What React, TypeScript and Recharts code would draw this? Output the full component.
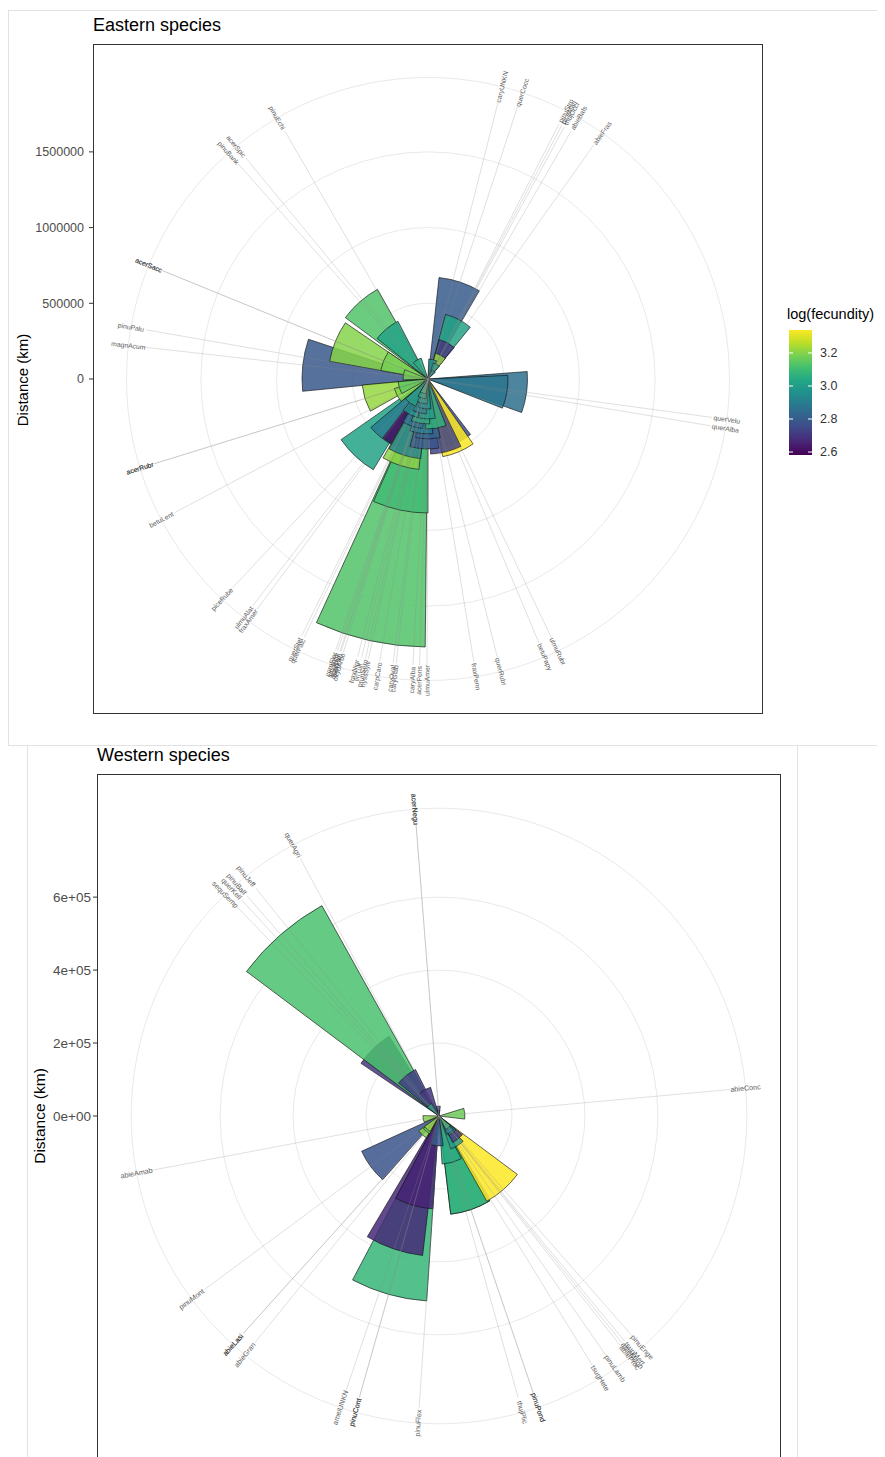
import React from 'react';
import {
  ScatterChart,
  Scatter,
  XAxis,
  YAxis,
  ReferenceArea,
  ReferenceLine,
  Sector,
} from 'recharts';

// Eastern species (array order = drawing order)
const eastSpecies = [
  'prunSero', 'nyssSylv', 'magnAcum', 'piceRube', 'pinuBank', 'querCocc', 'acerSacc',
  'querVelu', 'querAlba', 'ulmuAlat', 'querFalc', 'querPrin', 'oxydArbo', 'ulmuRubr',
  'betuPapy', 'querRubr', 'caryAlba', 'acerSpic', 'acerRubr', 'ulmuAmer', 'pinuStro',
  'caryOval', 'sassAlbi', 'fraxPenn', 'acerSacc', 'carpCaro', 'piceMari', 'acerPens',
  'querStel', 'betuLent', 'fraxNigr', 'acerRubr', 'fraxAmer', 'caryGlab', 'thujOcci',
  'pinuPalu', 'liriTuli', 'pinuEchi', 'liquStyr', 'caryUNKN', 'abieBals', 'cornFlor',
  'abieFras',
];
const eastBearing = [
  192.6, 192.0, 276.4, 223.1, 318.6, 18.2, 292.2,
  97.7, 99.4, 217.7, 205.6, 197.7, 197.2, 154.5,
  157.2, 166.0, 183.0, 320.5, 252.8, 180.2, 27.2,
  187.0, 198.4, 170.8, 292.2, 189.7, 27.8, 181.7,
  206.2, 242.2, 194.2, 252.8, 216.6, 186.4, 28.4,
  279.9, 193.4, 330.0, 197.9, 14.2, 30.0, 198.8,
  35.3,
];
const eastDistance = [
  1770000, 885000, 832000, 700000, 680000, 674000, 660000,
  657000, 528000, 495000, 489000, 600000, 528000, 462000,
  522000, 495000, 462000, 430000, 436000, 396000, 442000,
  363000, 330000, 330000, 317000, 297000, 271000, 264000,
  264000, 231000, 231000, 198000, 198000, 198000, 178000,
  165000, 165000, 145000, 132000, 132000, 112000, 99000,
  66000,
];
const eastFecundity = [
  3.13, 3.1, 2.79, 3.02, 3.13, 2.8, 3.2,
  2.86, 2.88, 2.9, 2.61, 3.21, 2.92, 2.76,
  3.34, 2.73, 2.78, 3.02, 3.22, 2.82, 3.02,
  2.9, 2.85, 3.07, 3.18, 3.05, 2.7, 3.0,
  2.95, 3.2, 2.9, 3.15, 3.0, 2.95, 3.22,
  3.18, 3.0, 3.05, 3.05, 2.95, 3.0, 3.1,
  2.9,
];
const eastTicks = [0, 500000, 1000000, 1500000];

// Western species
const westSpecies = [
  'sequSemp', 'pinuBalf', 'pinuCont', 'amelUNKN', 'pinuMont', 'pinuCont', 'pinuPond',
  'pinuPond', 'pinuEnge', 'pinuJeff', 'thujPlic', 'tsugHete', 'querAgri', 'tsugMert',
  'pinuFlex', 'abieConc', 'abieLasi', 'abieMagn', 'abieGran', 'pinuLamb', 'abieLasi',
  'abieAmab', 'abieProc', 'querKell', 'acerNegu', 'acerNegu',
];
const westBearing = [
  316.0, 318.9, 195.8, 198.7, 233.5, 195.8, 161.2,
  161.2, 138.7, 321.2, 164.3, 148.4, 331.7, 140.5,
  183.9, 84.8, 222.0, 141.1, 219.1, 145.1, 222.0,
  259.3, 141.7, 317.6, 355.5, 355.5,
];
const westDistance = [
  258000, 660000, 508000, 385000, 233000, 255000, 271000,
  271000, 268000, 143000, 132000, 96000, 82000, 82000,
  82000, 71000, 69000, 60000, 55000, 55000, 49000,
  44000, 41000, 40000, 27000, 16000,
];
const westFecundity = [
  2.7, 3.12, 3.08, 2.67, 2.78, 2.66, 3.07,
  3.07, 3.34, 2.72, 3.05, 3.0, 2.7, 2.7,
  2.8, 3.17, 3.2, 2.95, 3.15, 2.9, 3.22,
  3.2, 3.1, 3.0, 2.75, 2.75,
];
const westTicks = [0, 200000, 400000, 600000];

const legendTicks = [2.6, 2.8, 3.0, 3.2];
const fecMin = 2.582;
const fecMax = 3.339;

const WEDGE = 24; // degrees
const FONT = '"Liberation Sans", Arial, Helvetica, sans-serif';

const viridisStops = [
  '#440154', '#482475', '#414487', '#355f8d', '#2a788e', '#21918c',
  '#22a884', '#44bf70', '#7ad151', '#bddf26', '#fde725',
];

function hexToRgb(h: string) {
  return [1, 3, 5].map((i) => parseInt(h.slice(i, i + 2), 16));
}

function viridis(t: number) {
  const c = Math.max(0, Math.min(1, t)) * 10;
  const i = Math.min(9, Math.floor(c));
  const f = c - i;
  const a = hexToRgb(viridisStops[i]);
  const b = hexToRgb(viridisStops[i + 1]);
  const rgb = a.map((v, k) => Math.round(v + (b[k] - v) * f));
  return `rgb(${rgb.join(',')})`;
}

const fecColor = (f: number) => viridis((f - fecMin) / (fecMax - fecMin));

const rad = (d: number) => (d * Math.PI) / 180;

const plainFormat = (v: number) => String(v);
const sciFormat = (v: number) => {
  if (v === 0) return '0e+00';
  const e = Math.floor(Math.log10(Math.abs(v)));
  const m = Math.round((v / Math.pow(10, e)) * 100) / 100;
  return `${m}e+${String(e).padStart(2, '0')}`;
};

type PanelProps = {
  species: string[];
  bearing: number[];
  distance: number[];
  fecundity: number[];
  rMax: number;
  ticks: number[];
  tickFormatter: (v: number) => string;
  size: number;
  axisWidth: number;
  tickFontSize: number;
  tickMargin: number;
  labelFontSize: number;
};

const PolarPanel = (p: PanelProps) => {
  const D = p.rMax * 1.25;
  const labelR = p.rMax * 1.125;
  const rows = p.species.map((name, i) => ({
    name,
    bearing: p.bearing[i],
    distance: p.distance[i],
    fecundity: p.fecundity[i],
  }));
  const labels = rows.map((r) => ({
    name: r.name,
    bearing: r.bearing,
    x: labelR * Math.sin(rad(r.bearing)),
    y: labelR * Math.cos(rad(r.bearing)),
  }));
  const rings = [...p.ticks.filter((t) => t > 0), labelR];

  return (
    <ScatterChart
      width={p.axisWidth + p.size}
      height={p.size}
      margin={{ top: 0, right: 0, bottom: 0, left: 0 }}
    >
      <XAxis type="number" dataKey="x" domain={[-D, D]} allowDataOverflow hide />
      <YAxis
        type="number"
        dataKey="y"
        domain={[-D, D]}
        allowDataOverflow
        ticks={p.ticks}
        interval={0}
        width={p.axisWidth}
        axisLine={false}
        tickLine={{ stroke: '#333', strokeWidth: 1 }}
        tickSize={4}
        tickMargin={p.tickMargin}
        tick={{ fill: '#4d4d4d', fontSize: p.tickFontSize, fontFamily: FONT }}
        tickFormatter={p.tickFormatter}
      />

      {/* grid circles */}
      {rings.map((r) => (
        <ReferenceArea
          key={`ring-${r}`}
          x1={-r}
          x2={r}
          y1={-r}
          y2={r}
          ifOverflow="visible"
          shape={(s: any) => (
            <circle
              cx={s.x + s.width / 2}
              cy={s.y + s.height / 2}
              r={s.width / 2}
              fill="none"
              stroke="#e3e3e3"
              strokeWidth={0.8}
            />
          )}
        />
      ))}

      {/* spokes to the labels */}
      {labels.map((l, i) => (
        <ReferenceLine
          key={`spoke-${i}`}
          segment={[
            { x: 0, y: 0 },
            { x: l.x * 0.95, y: l.y * 0.95 },
          ]}
          stroke="#8a8a8a"
          strokeOpacity={0.45}
          strokeWidth={0.6}
          ifOverflow="visible"
        />
      ))}

      {/* wedges */}
      {rows.map((r, i) => (
        <ReferenceArea
          key={`wedge-${i}`}
          x1={-r.distance}
          x2={r.distance}
          y1={-r.distance}
          y2={r.distance}
          ifOverflow="visible"
          shape={(s: any) => (
            <Sector
              cx={s.x + s.width / 2}
              cy={s.y + s.height / 2}
              innerRadius={0}
              outerRadius={s.width / 2}
              startAngle={90 - (r.bearing - WEDGE / 2)}
              endAngle={90 - (r.bearing + WEDGE / 2)}
              fill={fecColor(r.fecundity)}
              fillOpacity={0.85}
              stroke="#111"
              strokeOpacity={0.85}
              strokeWidth={0.75}
            />
          )}
        />
      ))}

      {/* species labels */}
      <Scatter
        data={labels}
        isAnimationActive={false}
        shape={(s: any) => {
          let rot = s.payload.bearing - 90;
          if (rot > 90) rot -= 180;
          return (
            <g opacity={0.8}>
              <text
                x={s.cx}
                y={s.cy}
                transform={`rotate(${rot}, ${s.cx}, ${s.cy})`}
                textAnchor="middle"
                dominantBaseline="central"
                fontSize={p.labelFontSize}
                fontFamily={FONT}
                fill="#333"
              >
                {s.payload.name}
              </text>
            </g>
          );
        }}
      />

      {/* panel border */}
      <ReferenceArea
        x1={-D}
        x2={D}
        y1={-D}
        y2={D}
        ifOverflow="visible"
        shape={(s: any) => (
          <rect
            x={s.x + 0.5}
            y={s.y + 0.5}
            width={s.width - 1}
            height={s.height - 1}
            fill="none"
            stroke="#333"
            strokeWidth={1}
          />
        )}
      />
    </ScatterChart>
  );
};

const Legend = () => {
  const barH = 125;
  const barW = 23;
  const yOf = (v: number) => barH - ((v - fecMin) / (fecMax - fecMin)) * barH;
  return (
    <svg width={70} height={barH + 10} style={{ position: 'absolute', left: 781, top: 322 }}>
      <defs>
        <linearGradient id="viridisBar" x1="0" y1="1" x2="0" y2="0">
          {viridisStops.map((c, i) => (
            <stop key={c} offset={`${i * 10}%`} stopColor={c} />
          ))}
        </linearGradient>
      </defs>
      <rect x={0} y={0} width={barW} height={barH} fill="url(#viridisBar)" />
      {legendTicks.map((t) => (
        <g key={t}>
          <line x1={0} x2={4} y1={yOf(t)} y2={yOf(t)} stroke="#fff" strokeWidth={1} />
          <line x1={barW - 4} x2={barW} y1={yOf(t)} y2={yOf(t)} stroke="#fff" strokeWidth={1} />
          <text
            x={31}
            y={yOf(t)}
            dominantBaseline="central"
            fontSize={12.5}
            fontFamily={FONT}
            fill="#333"
          >
            {t.toFixed(1)}
          </text>
        </g>
      ))}
    </svg>
  );
};

const App = () => {
  return (
    <div style={{ position: 'relative', width: 877, height: 1449, fontFamily: FONT, color: '#000' }}>
      {/* image frames */}
      <div
        style={{
          position: 'absolute',
          left: 0,
          top: 2,
          width: 877,
          height: 736,
          border: '1px solid #e2e2e2',
          boxSizing: 'border-box',
        }}
      />
      <div
        style={{
          position: 'absolute',
          left: 19,
          top: 737,
          width: 771,
          height: 730,
          border: '1px solid #e2e2e2',
          boxSizing: 'border-box',
          background: '#fff',
        }}
      />

      {/* Eastern */}
      <div style={{ position: 'absolute', left: 85, top: 8, fontSize: 18, lineHeight: '18px' }}>
        Eastern species
      </div>
      <div
        style={{
          position: 'absolute',
          left: 14,
          top: 372,
          transform: 'translate(-50%, -50%) rotate(-90deg)',
          whiteSpace: 'nowrap',
          fontSize: 15,
        }}
      >
        Distance (km)
      </div>
      <div style={{ position: 'absolute', left: 25, top: 36 }}>
        <PolarPanel
          species={eastSpecies}
          bearing={eastBearing}
          distance={eastDistance}
          fecundity={eastFecundity}
          rMax={1770000}
          ticks={eastTicks}
          tickFormatter={plainFormat}
          size={670}
          axisWidth={60}
          tickFontSize={12.5}
          tickMargin={5}
          labelFontSize={6.8}
        />
      </div>
      <div style={{ position: 'absolute', left: 779, top: 297, fontSize: 14.5, lineHeight: '18px' }}>
        log(fecundity)
      </div>
      <Legend />

      {/* Western */}
      <div style={{ position: 'absolute', left: 89, top: 738, fontSize: 18, lineHeight: '18px' }}>
        Western species
      </div>
      <div
        style={{
          position: 'absolute',
          left: 32,
          top: 1108,
          transform: 'translate(-50%, -50%) rotate(-90deg)',
          whiteSpace: 'nowrap',
          fontSize: 15.5,
        }}
      >
        Distance (km)
      </div>
      <div style={{ position: 'absolute', left: 29, top: 766 }}>
        <PolarPanel
          species={westSpecies}
          bearing={westBearing}
          distance={westDistance}
          fecundity={westFecundity}
          rMax={750000}
          ticks={westTicks}
          tickFormatter={sciFormat}
          size={684}
          axisWidth={60}
          tickFontSize={13.5}
          tickMargin={2}
          labelFontSize={7.2}
        />
      </div>
    </div>
  );
};

export default App;
